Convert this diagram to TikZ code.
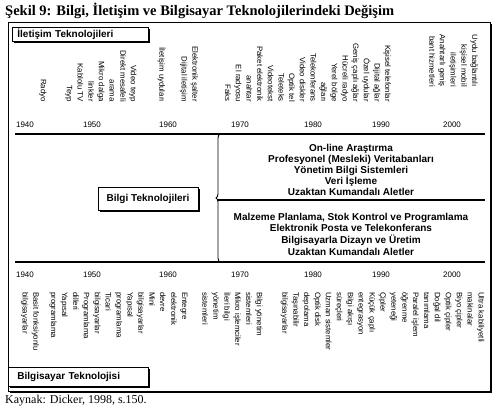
\documentclass[tikz,border=0pt]{standalone}
\usepackage{fontspec}
\setmainfont{Liberation Serif}
\newfontfamily\arl{Liberation Sans}
\usetikzlibrary{decorations.pathreplacing,shadows}
\begin{document}
\begin{tikzpicture}[x=1pt,y=-1pt,
  vtop/.style={rotate=-90, anchor=east, align=right, inner sep=0pt, font=\arl\fontsize{7.8}{10.67}\selectfont},
  vbot/.style={rotate=-90, anchor=west, align=left, inner sep=0pt, font=\arl\fontsize{7.8}{10.9}\selectfont},
  year/.style={font=\arl\fontsize{8}{9}\selectfont, inner sep=0pt},
  mid/.style={font=\arl\bfseries\fontsize{10}{10.85}\selectfont, align=center, inner sep=0pt},
  midb/.style={font=\arl\bfseries\fontsize{10}{11.67}\selectfont, align=center, inner sep=0pt},
  hbox/.style={draw, line width=0.8pt, fill=white, font=\arl\bfseries\fontsize{10}{12}\selectfont,
     drop shadow={shadow xshift=2pt, shadow yshift=-2pt, fill=black, opacity=1}},
  tline/.style={line width=1.1pt},
]
\useasboundingbox (0,0) rectangle (500,409);
% title
\node[anchor=base west, inner sep=0pt, font=\bfseries\fontsize{14.5}{16}\selectfont] (title) at (5,16) {Şekil 9: Bilgi, İletişim ve Bilgisayar Teknolojilerindeki Değişim};
% frame
\fill (10,24) rectangle (492,393);
\draw[fill=white, line width=0.8pt] (8,22) rectangle (490,391);
% header boxes
\node[hbox, anchor=north west, text width=126pt, inner xsep=5pt, inner ysep=0pt, minimum height=14pt, align=left] (ih) at (12,27) {İletişim Teknolojileri};
\node[hbox, anchor=north west, text width=122pt, inner xsep=9pt, inner ysep=0pt, minimum height=19pt, align=left] (bh) at (8,367) {Bilgisayar Teknolojisi};
\node[hbox, minimum width=100pt, minimum height=23pt, inner sep=0pt] (bt) at (148,198.5) {Bilgi Teknolojileri};
% timelines
\coordinate (t1l) at (15,134); \coordinate (t1r) at (485,134);
\coordinate (t2l) at (15,262); \coordinate (t2r) at (485,262);
\draw[tline] (t1l) -- (t1r);
\draw[tline] (t2l) -- (t2r);
% brace and separator
\coordinate (brt) at (220,134); \coordinate (brb) at (220,262);
\coordinate (sepl) at (218,200); \coordinate (sepr) at (485,200);
\draw[line width=0.9pt, decorate, decoration={brace, amplitude=4pt}] (brb) -- (brt);
\draw[tline] (sepl) -- (sepr);
% years
\foreach \x/\y [count=\i] in {25/1940,92/1950,168/1960,240/1970,313/1980,381/1990,452/2000}{
  \node[year] (yt\i) at (\x,125) {\y};
  \node[year] (yb\i) at (\x,275) {\y};
}
% top texts
\node[vtop] (ta) at (43,102) {Radyo};
\node[vtop] (tb) at (101,102) {Video teyp\\Direkt mesafeli\\arama\\Mikro dalga\\linkler\\Kablolu TV\\Teyp};
\node[vtop] (tc) at (162,102) {İletişim uyduları};
\node[vtop] (td) at (189,102) {Elektronik şalter\\Dijital iletişim};
\node[vtop] (te) at (308,102) {Kişisel telefonlar\\Dijital ağlar\\Özel uydular\\Geniş çaplı ağlar\\Hücreli radyo\\Yerel bölge\\ağları\\Telekonferans\\Video diskler\\Optik tel\\Teleteks\\Videotekst\\Paket elektronik\\anahtar\\El radyosu\\Faks};
\node[vtop] (tf) at (453.5,87) {Uydu bağlantılı\\kişisel mobil\\iletişimleri\\Anahtarlı geniş\\bant hizmetleri};
% middle texts
\node[mid] (mu) at (351,170) {On-line Araştırma\\Profesyonel (Mesleki) Veritabanları\\Yönetim Bilgi Sistemleri\\Veri İşleme\\Uzaktan Kumandalı Aletler};
\node[midb] (ml) at (351,234.2) {Malzeme Planlama, Stok Kontrol ve Programlama\\Elektronik Posta ve Telekonferans\\Bilgisayarla Dizayn ve Üretim\\Uzaktan Kumandalı Aletler};
% bottom texts
\node[vbot] (ga) at (30,292) {Basit fonksiyonlu\\bilgisayarlar};
\node[vbot] (gb) at (118.5,292) {Entegre\\elektronik\\devre\\Mini\\bilgisayarlar\\Yapısal\\programlama\\Ticari\\bilgisayarlar\\Programlama\\dilleri\\Yapısal\\programlama};
\node[vbot] (gc) at (232.5,292) {Bilgi yönetim\\sistemleri\\Mikro işlemciler\\İleri bilgi\\yönetim\\sistemleri};
\node[vbot] (gd) at (382.5,292) {Ultra kabiliyetli\\makinalar\\Biyo çipler\\Optik çipler\\Doğal dil\\tanımlama\\Paralel işlem\\öğrenme\\yeteneği\\Çipler\\Küçük çaplı\\entegrasyon\\Bilgi akışı\\süreçleri\\Uzman sistemler\\Optik disk\\depolama\\Taşınabilir\\bilgisayarlar};
% source
\node[anchor=base west, inner sep=0pt, font=\fontsize{12}{14}\selectfont] (src) at (5,403) {Kaynak: Dicker, 1998, s.150.};
\end{tikzpicture}
\end{document}
